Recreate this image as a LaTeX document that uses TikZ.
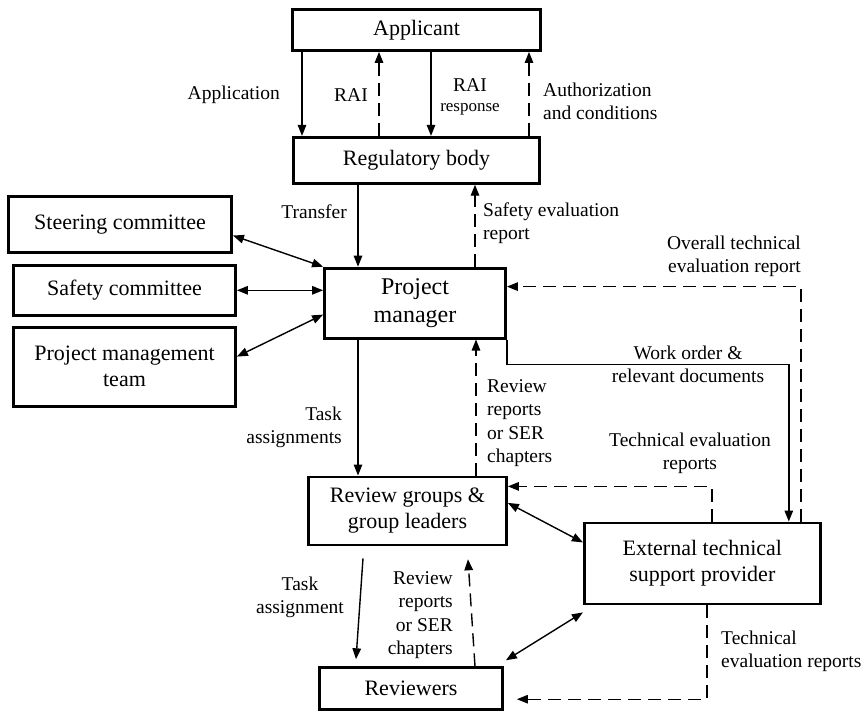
\documentclass[tikz,border=0pt]{standalone}
\usepackage{fontspec}
\setmainfont{Liberation Serif}
\usetikzlibrary{arrows.meta, positioning}

\begin{document}
\begin{tikzpicture}[
  x=1pt, y=1pt,
  node distance=0pt,
  box/.style={draw, line width=2.8pt, align=center, inner sep=0pt,
    font=\fontsize{22}{26}\selectfont},
  lbl/.style={inner sep=0pt, font=\fontsize{19.5}{23.3}\selectfont},
  arrow/.style={-{Triangle[length=11pt, width=8.5pt]}, line width=1.4pt},
  dasharrow/.style={arrow, dash pattern=on 13pt off 7pt},
  twoway/.style={{Triangle[length=11pt, width=8.5pt]}-{Triangle[length=11pt, width=8.5pt]},
    line width=1.4pt},
]
\useasboundingbox (0,0) rectangle (868,-716);

% Main column
\node[box, minimum width=248pt, minimum height=41pt] (app) at (416.5,-30) {Applicant};
\node[box, below=84pt of app, minimum width=246pt, minimum height=46pt] (reg) {Regulatory body};
\node[box, below=82pt of reg, xshift=-1.5pt, minimum width=181pt, minimum height=70pt,
  font=\fontsize{24}{28}\selectfont] (pm) {Project\\manager};
\node[box, below=136pt of pm, xshift=-7.5pt, minimum width=198pt, minimum height=68pt]
  (rg) {Review groups \&\\group leaders};
\node[box, below=120pt of rg, xshift=3.5pt, minimum width=183pt, minimum height=42pt]
  (rev) {Reviewers};
\node[box, right=75pt of rg, yshift=-52.5pt, minimum width=236pt, minimum height=81pt]
  (ext) {External technical\\support provider};

% Committees on the left
\node[box, minimum width=223pt, minimum height=56pt] (steer) at (120,-224.5) {Steering committee};
\node[box, below=10pt of steer, xshift=4.5pt, minimum width=222pt, minimum height=50pt]
  (safe) {Safety committee};
\node[box, below=9pt of safe, minimum width=222pt, minimum height=79pt]
  (pmt) {Project management\\team};

% Applicant <-> regulatory body
\draw[arrow] ([xshift=-114.5pt]app.south) -- ([xshift=-114.5pt]reg.north);
\draw[dasharrow] ([xshift=-37.5pt]reg.north) -- ([xshift=-37.5pt]app.south);
\draw[arrow] ([xshift=14.5pt]app.south) -- ([xshift=14.5pt]reg.north);
\draw[dasharrow] ([xshift=112.5pt]reg.north) -- ([xshift=112.5pt]app.south);

\node[lbl, anchor=east] (lapp) at (280,-95) {Application};
\node[lbl, anchor=east] (lrai) at (368,-95) {RAI};
\node[lbl, align=center] (lresp) at (470,-97)
  {RAI\\[-3pt]{\fontsize{17}{20}\selectfont response}};
\node[lbl, anchor=west, align=left] (lauth) at (543,-101) {Authorization\\and conditions};

% Regulatory body <-> project manager
\coordinate (tr) at ([xshift=-57pt]pm.north);
\coordinate (ser) at ([xshift=60pt]pm.north);
\draw[arrow] (reg.south -| tr) -- (tr);
\draw[dasharrow] (ser) -- (reg.south -| ser);
\node[lbl, anchor=east] (ltr) at (347,-212) {Transfer};
\node[lbl, anchor=west, align=left] (lser) at (483,-223) {Safety evaluation\\report};

% Committees <-> project manager
\draw[twoway] ([yshift=-11pt]steer.east) -- (pm.north west);
\draw[twoway] (safe.east) -- (safe.east -| pm.west);
\draw[twoway] ([yshift=10pt]pmt.east) -- ([yshift=-11.5pt]pm.west);

% Project manager <-> external provider
\draw[dasharrow] ([xshift=98.5pt]ext.north) |- ([yshift=16.5pt]pm.east);
\draw[arrow] (pm.south east) -- ++(0,-25) -| ([xshift=86.5pt]ext.north);
\node[lbl, anchor=east, align=right] (lover) at (801,-256)
  {Overall technical\\evaluation report};
\node[lbl, align=center] (lwork) at (688,-364) {Work order \&\\relevant documents};

% Project manager <-> review groups
\coordinate (ta) at ([xshift=-57pt]pm.south);
\coordinate (rr) at ([xshift=68.5pt]rg.north);
\draw[arrow] (ta) -- (rg.north -| ta);
\draw[dasharrow] (rr) -- (pm.south -| rr);
\node[lbl, anchor=east, align=right] (lta) at (342,-427) {Task\\assignments};
\node[lbl, anchor=west, align=left] (lrr) at (487,-423) {Review\\reports\\or SER\\chapters};

% External provider <-> review groups
\draw[dasharrow] ([xshift=9.5pt]ext.north) |- ([yshift=24.5pt]rg.east);
\draw[twoway] ([yshift=8pt]rg.east) -- ([yshift=21pt]ext.west);
\node[lbl, align=center] (ltech) at (690,-453) {Technical evaluation\\reports};

% Review groups <-> reviewers
\coordinate (tas) at ([xshift=-44.5pt, yshift=-12pt]rg.south);
\coordinate (tae) at ([xshift=-55pt, yshift=7pt]rev.north);
\coordinate (rre) at ([xshift=60.5pt, yshift=-13pt]rg.south);
\draw[arrow] (tas) -- (tae);
\draw[dasharrow] ([xshift=64pt]rev.north) -- (rre);
\node[lbl, align=center] (ltask) at (300,-597) {Task\\assignment};
\node[lbl, anchor=east, align=right] (lrev) at (453,-615) {Review\\reports\\or SER\\chapters};

% External provider <-> reviewers
\draw[twoway] ([xshift=2pt, yshift=6pt]rev.north east) -- ([yshift=-49pt]ext.west);
\draw[dasharrow, shorten >=13pt] ([xshift=4.5pt]ext.south) |- ([yshift=-10.5pt]rev.east);
\node[lbl, anchor=west, align=left] (lext) at (721,-651.5) {Technical\\evaluation reports};

\end{tikzpicture}
\end{document}
